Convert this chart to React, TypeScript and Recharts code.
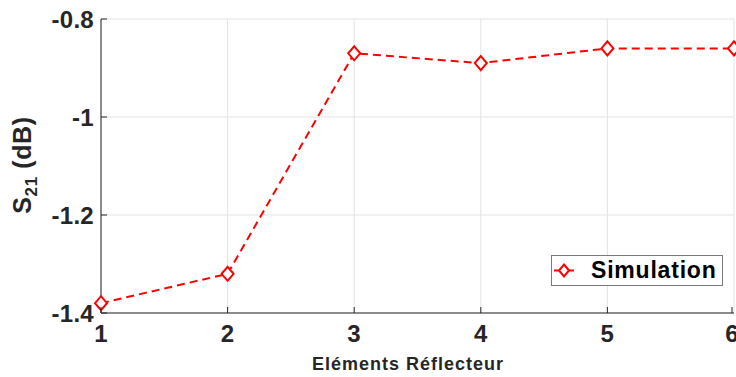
import { LineChart, Line, XAxis, YAxis, CartesianGrid } from 'recharts';

const elements = [1, 2, 3, 4, 5, 6];
const s21 = [-1.38, -1.32, -0.87, -0.89, -0.86, -0.86];
const yTicks = [-1.4, -1.2, -1, -0.8];
const seriesName = 'Simulation';
const xTitle = 'Eléments Réflecteur';

const data = elements.map((x, i) => ({ x, s21: s21[i] }));

const AXIS = '#262626';
const FONT = '"Liberation Sans", Arial, Helvetica, sans-serif';

const tickText = { fontSize: 24, fontWeight: 700, letterSpacing: 0.3, fontFamily: FONT };

function BottomTick({ x, y, payload }: any) {
  return (
    <g>
      <line x1={x} x2={x} y1={y} y2={y - 6} stroke={AXIS} />
      <text x={x} y={y + 29} textAnchor="middle" fill={AXIS} style={tickText}>
        {payload.value}
      </text>
    </g>
  );
}

function TopTick({ x, y }: any) {
  return <line x1={x} x2={x} y1={y} y2={y + 6} stroke={AXIS} />;
}

function LeftTick({ x, y, payload }: any) {
  return (
    <g>
      <line x1={x} x2={x + 6} y1={y} y2={y} stroke={AXIS} />
      <text x={x - 7} y={y + 9} textAnchor="end" fill={AXIS} style={tickText}>
        {String(payload.value)}
      </text>
    </g>
  );
}

function RightTick({ x, y }: any) {
  return <line x1={x} x2={x - 6} y1={y} y2={y} stroke={AXIS} />;
}

function Diamond({ cx, cy }: any) {
  if (cx == null || cy == null) return null;
  return (
    <path
      d={`M${cx},${cy - 7} L${cx + 6},${cy} L${cx},${cy + 7} L${cx - 6},${cy} Z`}
      fill="#fff"
      stroke="#ff0000"
      strokeWidth={2}
    />
  );
}

function YTitle() {
  return (
    <text
      transform="translate(31,165) rotate(-90)"
      textAnchor="middle"
      fill={AXIS}
      style={{ fontSize: 25, fontWeight: 700, letterSpacing: 0.6, fontFamily: FONT }}
    >
      S<tspan style={{ fontSize: 17 }} dy={6}>21</tspan>
      <tspan dy={-6}> (dB)</tspan>
    </text>
  );
}

function XTitle() {
  return (
    <text x={408} y={370} textAnchor="middle" fill={AXIS} style={{ fontSize: 18, fontWeight: 700, letterSpacing: 1, fontFamily: FONT }}>
      {xTitle}
    </text>
  );
}

export default function App() {
  return (
    <div style={{ position: 'absolute', left: 0, top: 0, width: 736, height: 377, background: '#fff' }}>
      <LineChart width={736} height={377} data={data} margin={{ top: 19, right: 2, left: 0, bottom: 0 }}>
        <CartesianGrid stroke="#e3e3e3" strokeWidth={1} />
        <XAxis
          dataKey="x"
          type="number"
          domain={[1, 6]}
          ticks={elements}
          height={64}
          tickSize={0}
          tickMargin={0}
          tick={<BottomTick />}
          axisLine={{ stroke: AXIS }}
          tickLine={false}
          label={<XTitle />}
        />
        <XAxis
          xAxisId="top"
          orientation="top"
          dataKey="x"
          type="number"
          domain={[1, 6]}
          ticks={elements}
          height={0}
          tickSize={0}
          tickMargin={0}
          tick={<TopTick />}
          axisLine={{ stroke: AXIS }}
          tickLine={false}
        />
        <YAxis
          type="number"
          domain={[-1.4, -0.8]}
          ticks={yTicks}
          width={101}
          tickSize={0}
          tickMargin={0}
          tick={<LeftTick />}
          axisLine={{ stroke: AXIS }}
          tickLine={false}
          label={<YTitle />}
        />
        <YAxis
          yAxisId="right"
          orientation="right"
          type="number"
          domain={[-1.4, -0.8]}
          ticks={yTicks}
          width={0}
          tickSize={0}
          tickMargin={0}
          tick={<RightTick />}
          axisLine={{ stroke: AXIS }}
          tickLine={false}
        />
        <Line
          dataKey="s21"
          name={seriesName}
          stroke="#ff0000"
          strokeWidth={2}
          strokeDasharray="8 5"
          dot={<Diamond />}
          activeDot={false}
          isAnimationActive={false}
        />
      </LineChart>
      <div
        style={{
          position: 'absolute',
          left: 551,
          top: 255,
          width: 170,
          height: 29,
          border: '1px solid #7a7a7a',
          background: '#fff',
          display: 'flex',
          alignItems: 'center',
          fontFamily: FONT,
        }}
      >
        <svg width={39} height={29} style={{ flex: 'none' }}>
          <line x1={2} x2={22} y1={14.5} y2={14.5} stroke="#ff0000" strokeWidth={2} />
          <path d="M12,8.5 L17,14.5 L12,20.5 L7,14.5 Z" fill="#fff" stroke="#ff0000" strokeWidth={2} />
        </svg>
        <span style={{ fontSize: 23, fontWeight: 700, letterSpacing: 0.8, color: '#000', whiteSpace: 'nowrap', lineHeight: '29px' }}>{seriesName}</span>
      </div>
    </div>
  );
}
